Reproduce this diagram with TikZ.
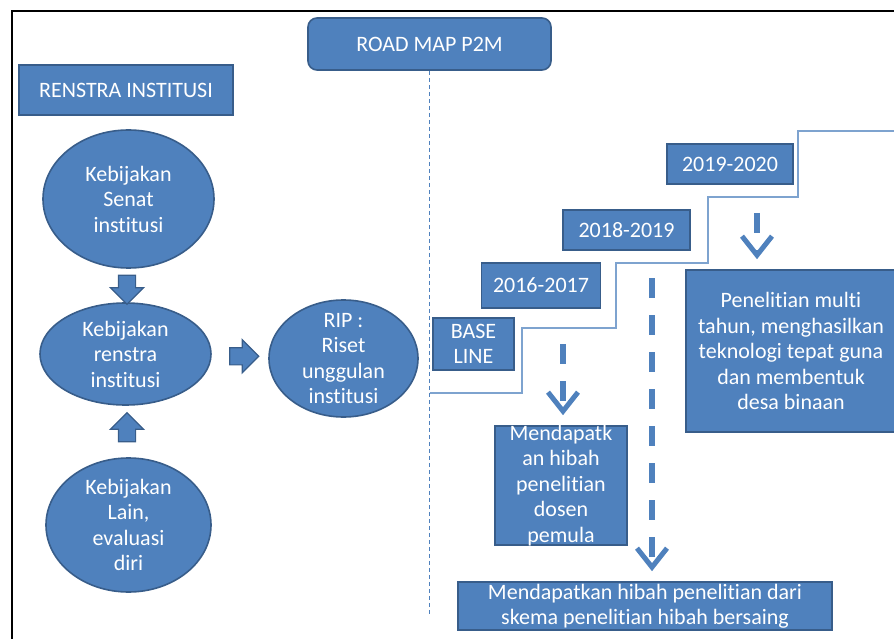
\documentclass[tikz,border=0pt]{standalone}
\usepackage{fontspec}
\setmainfont{Carlito}[Ligatures=NoCommon]
\usetikzlibrary{shapes.geometric,shapes.arrows,arrows.meta,calc}

\definecolor{isi}{HTML}{4F81BD}
\definecolor{tepi}{HTML}{385D8A}
\definecolor{tangga}{HTML}{7EA3CF}

\begin{document}
\begin{tikzpicture}[x=1pt, y=-1pt,
    huruf/.style={font=\fontsize{22}{25.5}\selectfont, text=white, align=center},
    kotak/.style={huruf, rectangle, fill=isi, draw=tepi, line width=1.6pt, inner sep=-6pt},
    elips/.style={huruf, ellipse, fill=isi, draw=tepi, line width=1.6pt, inner sep=-14pt},
    panah/.style={single arrow, fill=isi, draw=tepi, line width=1.2pt, inner sep=8pt,
        single arrow head extend=8pt, minimum height=29pt},
    putus/.style={draw=isi, line width=6pt, dash pattern=on 20pt off 17pt, shorten >=10pt,
        -{Straight Barb[length=19pt,width=30pt,line width=5pt]}}]
    \useasboundingbox (0,0) rectangle (894,639);

    % bingkai (hanya kiri dan atas)
    \draw[line width=2pt] (12,639) -- (12,11) -- (894,11);

    % kolom kiri: renstra institusi
    \node[kotak, minimum width=214pt, minimum height=50pt] (judul) at (126,90) {RENSTRA INSTITUSI};
    \node[elips, minimum width=171pt, minimum height=138pt] (senat) at (128.5,199) {Kebijakan\\Senat\\institusi};
    \node[elips, minimum width=171pt, minimum height=102pt] (renstra) at (125.5,354) {Kebijakan\\renstra\\institusi};
    \node[elips, minimum width=165pt, minimum height=134pt] (lain) at (128.5,525) {Kebijakan\\Lain,\\evaluasi\\diri};
    \node[elips, minimum width=149pt, minimum height=117pt] (rip) at (343.5,358.5) {RIP :\\Riset\\unggulan\\institusi};

    \node[panah, rotate=-90] (turun) at ($(senat.south)!.5!(renstra.north)$) {};
    \node[panah, rotate=90] (naik) at ($(lain.north)!.5!(renstra.south)$) {};
    \node[panah] (kanan) at ($(renstra.east)!.5!(rip.west)$) {};

    % kolom kanan: road map
    \node[kotak, rounded corners=9pt, minimum width=243pt, minimum height=52pt] (roadmap) at (429.5,44) {ROAD MAP P2M};
    \coordinate (ujung) at (429.5,615);
    \draw[isi, line width=1.1pt, dash pattern=on 4pt off 3pt] (roadmap.south) -- (ujung);

    % tangga tahun
    \draw[tangga, line width=1.6pt] (429.5,393) -| (522,328) -| (616,263) -| (708,197) -| (798,131) -- (894,131);

    \node[kotak, minimum width=81pt, minimum height=52pt] (base) at (473.5,344) {BASE\\LINE};
    \node[kotak, minimum width=119pt, minimum height=45pt] (th1617) at (541,285.5) {2016-2017};
    \node[kotak, minimum width=127pt, minimum height=40pt] (th1819) at (626.5,230) {2018-2019};
    \node[kotak, minimum width=126pt, minimum height=40pt] (th1920) at (730,164) {2019-2020};

    \node[kotak, minimum width=132pt, minimum height=119pt] (pemula) at (561,485.5) {Mendapatk\\an hibah\\penelitian\\dosen\\pemula};
    \node[kotak, minimum width=374pt, minimum height=48pt] (bersaing) at (645,606) {Mendapatkan hibah penelitian dari\\skema penelitian hibah bersaing};
    \node[kotak, minimum width=210pt, minimum height=162pt] (multi) at (791,351) {Penelitian multi\\tahun, menghasilkan\\teknologi tepat guna\\dan membentuk\\desa binaan};

    % panah putus-putus
    \coordinate (p1) at (563,344);
    \coordinate (p2) at (652,278);
    \coordinate (p3) at (757,213);
    \draw[putus] (p1) -- (p1 |- pemula.north);
    \draw[putus] (p2) -- (p2 |- bersaing.north);
    \draw[putus] (p3) -- (p3 |- multi.north);
\end{tikzpicture}
\end{document}
